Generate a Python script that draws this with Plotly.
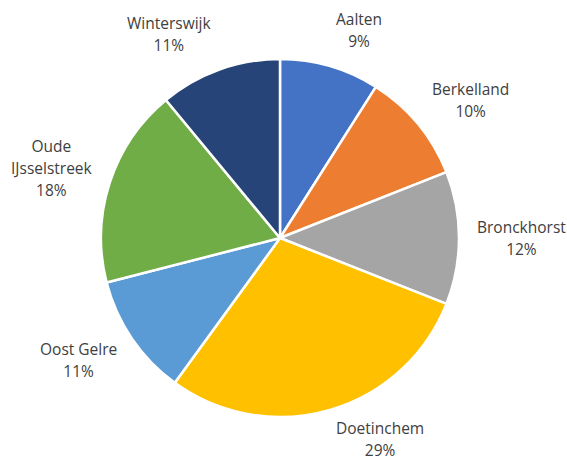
import math
import plotly.graph_objects as go

labels = ["Aalten", "Berkelland", "Bronckhorst", "Doetinchem", "Oost Gelre",
          "Oude IJsselstreek", "Winterswijk"]
label_lines = [["Aalten"], ["Berkelland"], ["Bronckhorst"], ["Doetinchem"], ["Oost Gelre"],
               ["Oude", "IJsselstreek"], ["Winterswijk"]]
values = [9, 10, 12, 29, 11, 18, 11]
colors = ["#4472C4", "#ED7D31", "#A5A5A5", "#FFC000", "#5B9BD5", "#70AD47", "#264478"]

W, H = 567, 463
# pie geometry (pixels)
cx, cy, R = 280, 238, 179
LINE = 22      # label line height in px
GAP = 16       # distance of label anchor from the pie edge

fig = go.Figure(go.Pie(
    labels=labels, values=values, sort=False, direction="clockwise", rotation=0,
    marker=dict(colors=colors, line=dict(color="white", width=2.5)),
    textinfo="none", hoverinfo="label+percent", showlegend=False,
    domain=dict(x=[(cx - R) / W, (cx + R) / W], y=[1 - (cy + R) / H, 1 - (cy - R) / H]),
))

total = sum(values)
cum = 0
annotations = []
for lines, v in zip(label_lines, values):
    mid = (cum + v / 2) / total * 2 * math.pi
    cum += v
    s, c = math.sin(mid), math.cos(mid)
    r = R + GAP
    px = cx + r * s
    py = cy - r * c
    pct = round(v / total * 100)
    all_lines = lines + [f"{pct}%"]
    h = LINE * len(all_lines)
    # vertical: box centre shifted outward by half its height times cos
    yc = py - c * h / 2
    yc = min(max(yc, h / 2 + 2), H - h / 2 - 2)
    xa = "left" if s > 0.1 else ("right" if s < -0.1 else "center")
    txt = "<br>".join(f"<span style='font-size:15.5px'>{t}</span>" for t in all_lines)
    annotations.append(dict(
        x=px / W, y=1 - yc / H, xref="paper", yref="paper",
        text=txt, showarrow=False, xanchor=xa, yanchor="middle",
        align="center", font=dict(family="Open Sans, Noto Sans, sans-serif", size=17, color="#404040"),
    ))

fig.update_layout(
    width=W, height=H, margin=dict(l=0, r=0, t=0, b=0),
    paper_bgcolor="white", plot_bgcolor="white", annotations=annotations,
)
fig.write_html(
    "out.html",
    config={"displayModeBar": False},
    post_script="document.body.style.margin='0';document.body.style.overflow='hidden';",
)
